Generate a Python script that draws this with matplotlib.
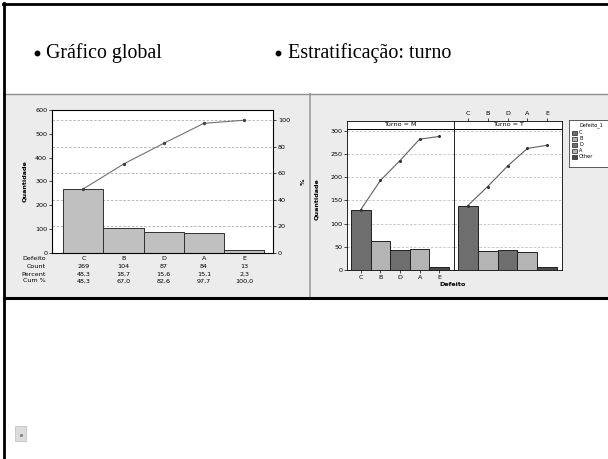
import matplotlib
matplotlib.use("Agg")
import matplotlib.pyplot as plt
from matplotlib.patches import Rectangle

# dados
defeitos = ["C", "B", "D", "A", "E"]
contagem = [269, 104, 87, 84, 13]
percent = ["48,3", "18,7", "15,6", "15,1", "2,3"]
cum_pct = [48.3, 67.0, 82.6, 97.7, 100.0]
cum_txt = ["48,3", "67,0", "82,6", "97,7", "100,0"]

turno_m = [130, 63, 43, 46, 6]
turno_t = [139, 41, 44, 38, 7]
legenda = ["C", "B", "D", "A", "Other"]
cores = ["#6e6e6e", "#b4b4b4", "#6e6e6e", "#b4b4b4", "#4a4a4a"]

W, H = 608, 459
fig = plt.figure(figsize=(W / 100, H / 100), dpi=100)
FS = 4.6


def px_axes(x0, y0, x1, y1, **kw):
    return fig.add_axes([x0 / W, 1 - y1 / H, (x1 - x0) / W, (y1 - y0) / H], **kw)


# fundo do slide em pixels
bg = fig.add_axes([0, 0, 1, 1], zorder=-5)
bg.set_xlim(0, W)
bg.set_ylim(H, 0)
bg.axis("off")
bg.add_patch(Rectangle((5, 95), 304, 202, color="#ececec", lw=0))
bg.add_patch(Rectangle((311, 95), 297, 202, color="#ececec", lw=0))
bg.plot([310, 310], [94, 297], color="#a8a8a8", lw=1.4)
bg.plot([4, W], [94, 94], color="#909090", lw=1.0)
bg.plot([3, W], [4, 4], color="black", lw=2.0)
bg.plot([4, 4], [3, H], color="black", lw=2.0)
bg.plot([4, W], [298, 298], color="black", lw=2.2)
bg.add_patch(Rectangle((15, 426), 11, 15, facecolor="#dcdcdc", edgecolor="#c4c4c4", lw=0.6))
bg.plot([21], [435], marker="o", ms=1.2, color="#808080")

serif = ["Liberation Serif", "DejaVu Serif"]
bg.plot([36.5], [53], marker="o", ms=3.2, color="black")
bg.text(46, 53, "Gráfico global", fontsize=14.3, family=serif, va="center")
bg.plot([277.5], [53], marker="o", ms=3.2, color="black")
bg.text(288, 53, "Estratificação: turno", fontsize=14.5, family=serif, va="center")

# ---- gráfico global (Pareto) ----
total = sum(contagem)
x = list(range(len(defeitos)))
axL = px_axes(52, 110, 273, 253)
for p in [20, 40, 60, 80, 100]:
    axL.axhline(p * total / 100, color="#b0b0b0", lw=0.6, ls=(0, (3, 2)), zorder=0)
axL.bar(x, contagem, width=1.0, color="#c0c0c0", edgecolor="#303030", lw=0.7, zorder=2)
axL.set_xlim(-0.78, 4.72)
axL.set_ylim(0, 600)
axL.set_yticks(range(0, 601, 100))
axL.set_xticks([])
axL.tick_params(labelsize=FS, length=2, width=0.5, pad=1.5)
axL.set_ylabel("Quantidade", fontsize=FS, fontweight="bold", labelpad=6)
for s in axL.spines.values():
    s.set_linewidth(0.6)

axR = axL.twinx()
axR.set_ylim(0, 600 / total * 100)
axR.set_yticks(range(0, 101, 20))
axR.tick_params(labelsize=FS, length=2, width=0.5, pad=1.5)
axR.set_ylabel("%", fontsize=FS, fontweight="bold", labelpad=8)
axR.plot(x, cum_pct, color="#707070", lw=0.8, marker="o", ms=1.4, mfc="#404040", mec="#404040")

# tabela sob o gráfico
linhas = [("Defeito", defeitos), ("Count", [str(v) for v in contagem]),
          ("Percent", percent), ("Cum %", cum_txt)]
ytab = [259, 267, 274, 281]
tr = axL.get_xaxis_transform()
for (rot, vals), yp in zip(linhas, ytab):
    bg.text(46, yp, rot, fontsize=FS, ha="right", va="center")
    for i, v in enumerate(vals):
        axL.text(i, (253 - yp) / 143, v, fontsize=FS, ha="center", va="center",
                 transform=tr, clip_on=False)

# ---- estratificação por turno ----
axM = px_axes(347, 129, 454, 270)
axT = px_axes(454, 129, 562, 270, sharey=axM)
for ax, vals in [(axM, turno_m), (axT, turno_t)]:
    for g in range(50, 301, 50):
        ax.axhline(g, color="#c0c0c0", lw=0.6, ls=(0, (3, 2)), zorder=0)
    ax.bar(x, vals, width=1.0, color=cores, edgecolor="#202020", lw=0.7, zorder=2)
    cum = [sum(vals[:i + 1]) for i in range(len(vals))]
    ax.plot(x, cum, color="#606060", lw=0.8, marker="o", ms=1.2, mfc="#303030",
            mec="#303030", zorder=3)
    ax.set_xlim(-0.7, 4.75)
    ax.set_ylim(0, 304)
    for s in ax.spines.values():
        s.set_linewidth(0.6)
axM.set_yticks(range(0, 301, 50))
axM.set_xticks(x)
axM.set_xticklabels(defeitos)
axM.tick_params(labelsize=FS, length=2, width=0.5, pad=1.5)
axM.set_ylabel("Quantidade", fontsize=FS, fontweight="bold", labelpad=8)
axT.tick_params(left=False, labelleft=False, bottom=False, labelbottom=False)

for (x0, x1), nome, topo in [((347, 454), "Turno = M", False), ((454, 562), "Turno = T", True)]:
    st = px_axes(x0, 121, x1, 129)
    st.set_xlim(-0.7, 4.75)
    st.set_yticks([])
    for s in st.spines.values():
        s.set_linewidth(0.6)
    st.text(0.5, 0.5, nome, transform=st.transAxes, fontsize=FS, ha="center", va="center")
    if topo:
        st.xaxis.tick_top()
        st.set_xticks(x)
        st.set_xticklabels(defeitos)
        st.tick_params(labelsize=FS, length=2, width=0.5, pad=1.5)
    else:
        st.set_xticks([])
bg.text(453, 285, "Defeito", fontsize=FS, fontweight="bold", ha="center", va="center")

# legenda
lg = px_axes(569, 120, 615, 167)
lg.set_xlim(0, 46)
lg.set_ylim(47, 0)
lg.set_xticks([])
lg.set_yticks([])
for s in lg.spines.values():
    s.set_linewidth(0.6)
    s.set_color("#404040")
lg.text(10, 5, "Defeito_1", fontsize=3.6, va="center")
for k, (nm, c) in enumerate(zip(legenda, cores)):
    yy = 13 + k * 6
    lg.add_patch(Rectangle((3, yy - 2), 5, 4, facecolor=c, edgecolor="#202020", lw=0.5))
    lg.text(10, yy, nm, fontsize=3.6, va="center")

fig.savefig("out.png", dpi=100)
